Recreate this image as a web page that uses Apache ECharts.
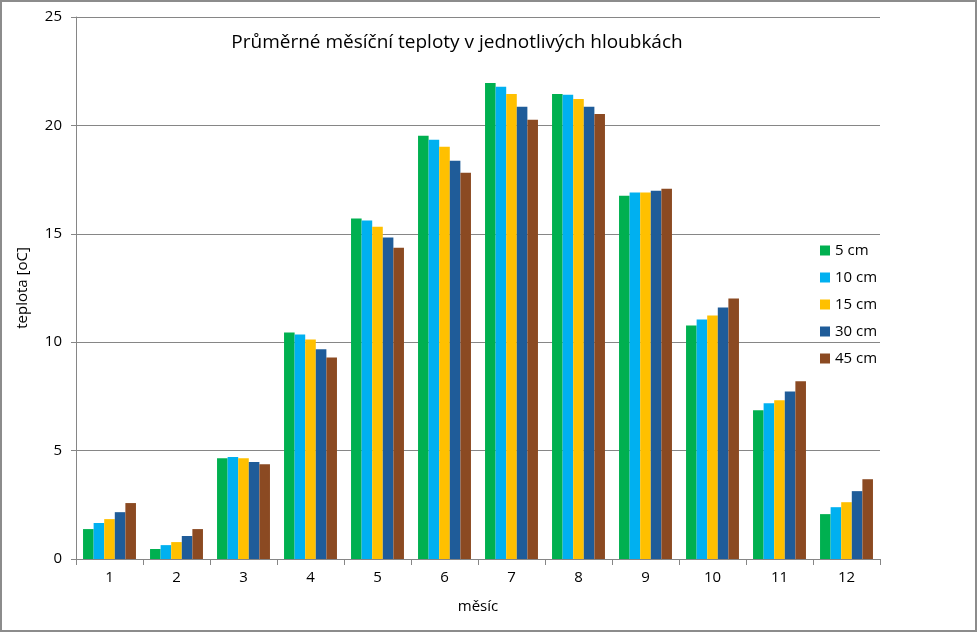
<!DOCTYPE html>
<html><head><meta charset="utf-8">
<script src="https://cdn.jsdelivr.net/npm/echarts@6/dist/echarts.min.js"></script>
<style>html,body{margin:0;padding:0;background:#fff}#c{width:977px;height:632px;box-sizing:border-box;border:2px solid #8c8c8c}</style>
</head><body><div id="c"></div>
<script>
const months = ['1','2','3','4','5','6','7','8','9','10','11','12'];
const seriesNames = ['5 cm','10 cm','15 cm','30 cm','45 cm'];
const colors = ['#00b050','#00b0f0','#ffc000','#1f5c99','#8b4a22'];
const d5  = [1.38,0.46,4.65,10.45,15.70,19.52,21.96,21.45,16.76,10.77,6.86,2.07];
const d10 = [1.66,0.64,4.70,10.36,15.61,19.34,21.78,21.41,16.90,11.05,7.18,2.39];
const d15 = [1.84,0.78,4.65,10.13,15.33,19.01,21.45,21.22,16.90,11.23,7.32,2.62];
const d30 = [2.16,1.06,4.47,9.67,14.83,18.37,20.86,20.86,16.99,11.60,7.73,3.13];
const d45 = [2.58,1.38,4.37,9.30,14.36,17.82,20.26,20.53,17.08,12.02,8.20,3.68];
const yTicks = [0,5,10,15,20,25];
const allData = [d5,d10,d15,d30,d45];
const FONT = 'Open Sans';
const chart = echarts.init(document.getElementById('c'));
chart.setOption({
  animation:false,
  color: colors,
  title:{text:'Průměrné měsíční teploty v jednotlivých hloubkách',left:450,top:26,textAlign:'center',
    textStyle:{fontFamily:FONT,fontSize:19,fontWeight:'normal',color:'#000'}},
  legend:{orient:'vertical',left:813,top:236,itemWidth:10,itemHeight:10,itemGap:12,
    icon:'rect',textStyle:{fontFamily:FONT,fontSize:15,color:'#000'},data:seriesNames},
  grid:{left:74,right:95,top:15,bottom:71},
  xAxis:{type:'category',data:months,name:'měsíc',nameLocation:'middle',nameGap:40,
    nameTextStyle:{fontFamily:FONT,fontSize:15,color:'#000'},
    axisLine:{lineStyle:{color:'#868686'}},axisTick:{show:true,length:6,lineStyle:{color:'#868686'}},
    axisLabel:{fontFamily:FONT,fontSize:15,color:'#000',margin:11}},
  yAxis:{type:'value',min:0,max:25,interval:5,name:'teplota [oC]',nameLocation:'middle',nameGap:46,
    nameTextStyle:{fontFamily:FONT,fontSize:15,color:'#000'},
    axisLine:{show:true,lineStyle:{color:'#868686'}},axisTick:{show:true,length:5,lineStyle:{color:'#868686'}},
    splitLine:{lineStyle:{color:'#868686'}},
    axisLabel:{fontFamily:FONT,fontSize:15,color:'#000',margin:14}},
  series: seriesNames.map((n,i)=>({name:n,type:'bar',data:allData[i],barGap:'0%',barCategoryGap:'21%'}))
});
</script></body></html>
